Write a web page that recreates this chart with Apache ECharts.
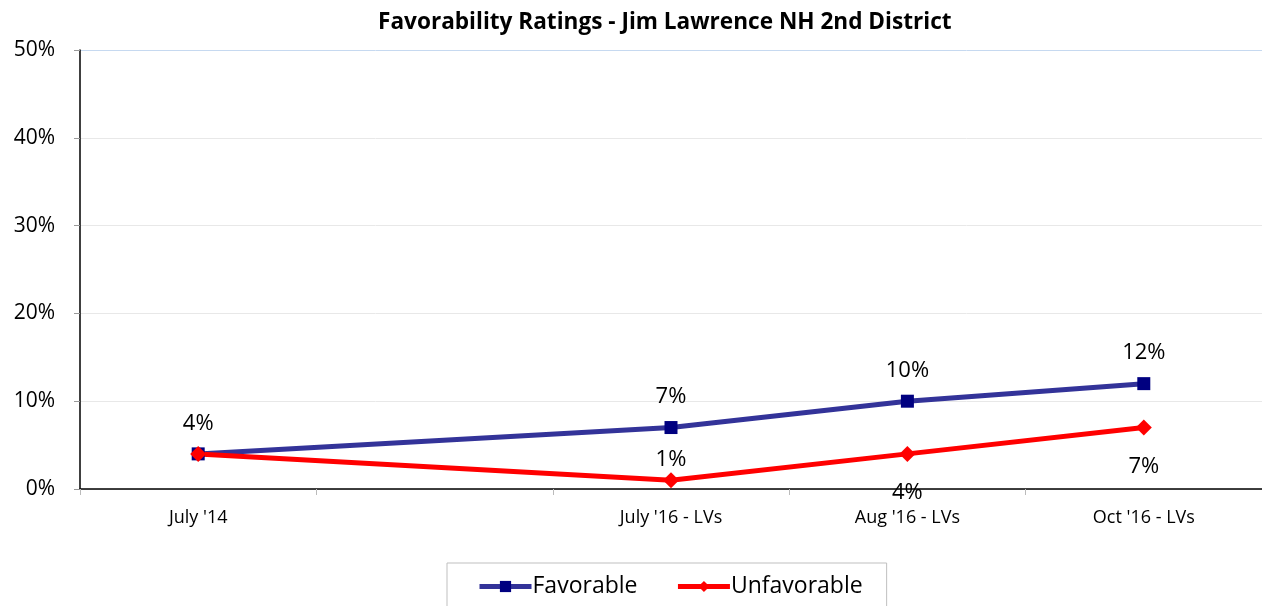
<!DOCTYPE html>
<html><head><meta charset="utf-8">
<script src="https://cdn.jsdelivr.net/npm/echarts@6/dist/echarts.min.js"></script>
<style>html,body{margin:0;padding:0;background:#fff}#c{width:1262px;height:606px}</style>
</head><body><div id="c"></div>
<script>
const categories = ["July '14", "", "July '16 - LVs", "Aug '16 - LVs", "Oct '16 - LVs"];
const favorable = [4, null, 7, 10, 12];
const unfavorable = [4, null, 1, 4, 7];
const yTicks = [0, 10, 20, 30, 40, 50];

const chart = echarts.init(document.getElementById('c'));
const FONT = '"Open Sans", "Noto Sans", sans-serif';
chart.setOption({
  animation: false,
  title: {text: 'Favorability Ratings - Jim Lawrence NH 2nd District', left: 373, top: 6,
    textStyle: {fontFamily: FONT, fontSize: 22.6, fontWeight: 'bold', color: '#000'}},
  grid: {left: 80, right: 0, top: 50, bottom: 117},
  legend: {bottom: -8, left: 447, itemWidth: 52, itemHeight: 14, itemGap: 38,
    padding: [12, 24, 16, 30], borderColor: '#bfbfbf', borderWidth: 1,
    textStyle: {fontFamily: FONT, fontSize: 23, color: '#000', padding: [0, 0, 0, -4]},
    data: [
      {name: 'Favorable', lineStyle: {width: 5}},
      {name: 'Unfavorable', lineStyle: {width: 5}}
    ]},
  xAxis: {type: 'category', data: categories, boundaryGap: true,
    axisLine: {lineStyle: {color: '#000', width: 1.5}},
    axisTick: {show: true, length: 6, lineStyle: {color: '#bbb'}},
    axisLabel: {fontFamily: FONT, fontSize: 18, color: '#000', margin: 20},
    splitLine: {show: false}},
  yAxis: {type: 'value', min: 0, max: 50, interval: 10,
    axisLine: {show: true, lineStyle: {color: '#000', width: 1.5}},
    axisTick: {show: true, length: 6, lineStyle: {color: '#999'}},
    axisLabel: {fontFamily: FONT, fontSize: 21, color: '#000', margin: 25,
      formatter: v => yTicks.includes(v) ? v + '%' : ''},
    splitLine: {lineStyle: {color: ['#e8e8e8', '#e8e8e8', '#e8e8e8', '#e8e8e8', '#e8e8e8', '#c6d9f0']}}},
  series: [
    {name: 'Favorable', type: 'line', data: favorable, connectNulls: true,
      symbol: 'rect', symbolSize: 13,
      lineStyle: {color: '#333399', width: 5}, itemStyle: {color: '#000080'},
      label: {show: true, position: 'top', distance: 13, formatter: p => p.value + '%',
        fontFamily: FONT, fontSize: 22, color: '#000'}},
    {name: 'Unfavorable', type: 'line', data: unfavorable.map((v, i) => {
        if (v === null) return null;
        if (i === 0) return {value: v, label: {show: false}};
        if (i === 2) return {value: v, label: {position: 'top', distance: 1}};
        return v;
      }), connectNulls: true,
      symbol: 'diamond', symbolSize: 16, z: 3,
      lineStyle: {color: '#ff0000', width: 5}, itemStyle: {color: '#ff0000'},
      label: {show: true, position: 'bottom', distance: 20, formatter: p => p.value + '%',
        fontFamily: FONT, fontSize: 22, color: '#000'}}
  ]
});
</script></body></html>
